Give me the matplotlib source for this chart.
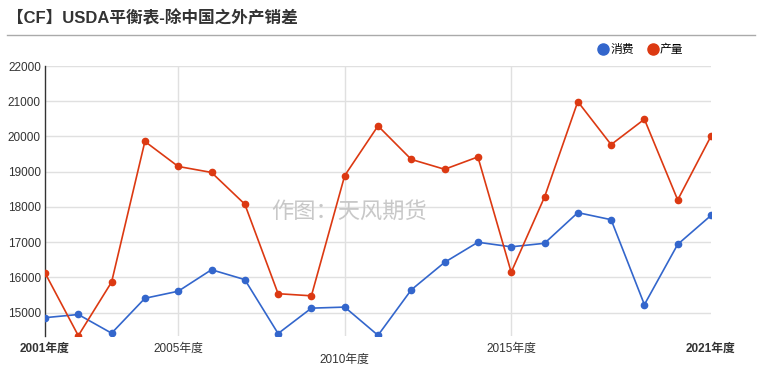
import matplotlib
matplotlib.use('Agg')
import matplotlib.pyplot as plt
from matplotlib.lines import Line2D

plt.rcParams['font.family'] = ['Liberation Sans', 'Noto Sans CJK SC', 'DejaVu Sans']

# data
years = list(range(2001, 2022))
consumption = [14860, 14950, 14420, 15410, 15610, 16220, 15940, 14410, 15130, 15160,
               14360, 15650, 16430, 17000, 16870, 16970, 17840, 17640, 15230, 16940, 17760]
production = [16130, 14350, 15870, 19860, 19150, 18980, 18080, 15540, 15480, 18890,
              20300, 19350, 19070, 19420, 16150, 18280, 20990, 19770, 20490, 18200, 20010]
xtick_years = [2001, 2005, 2010, 2015, 2021]
xtick_labels = [f'{y}年度' for y in xtick_years]
yticks = [15000, 16000, 17000, 18000, 19000, 20000, 21000, 22000]

blue = '#3366cc'
red = '#dc3912'
W, H = 761, 371

fig = plt.figure(figsize=(W / 100, H / 100), dpi=100)
ax = fig.add_axes([45 / W, 1 - 336 / H, (711 - 45) / W, (336 - 66) / H])

ax.plot(years, consumption, color=blue, lw=1.2, marker='o', ms=4.5, zorder=3)
ax.plot(years, production, color=red, lw=1.2, marker='o', ms=4.5, zorder=3)

ax.set_xlim(2001, 2021)
ax.set_ylim(14340, 22000)
ax.set_yticks(yticks)
ax.set_yticklabels([str(v) for v in yticks])
ax.set_xticks(xtick_years)
ax.set_xticklabels(xtick_labels)

# grid
for v in yticks:
    ax.axhline(v, color='#e0e0e0', lw=1, zorder=1)
for y in xtick_years[1:-1]:
    ax.axvline(y, color='#e0e0e0', lw=1, zorder=1)

for s in ['top', 'right', 'bottom']:
    ax.spines[s].set_visible(False)
ax.spines['left'].set_color('#333333')
ax.spines['left'].set_linewidth(1)
ax.tick_params(axis='both', length=0, labelsize=8.5, colors='#333333')
ax.tick_params(axis='y', pad=3)
ax.tick_params(axis='x', pad=5)

labels = ax.get_xticklabels()
labels[0].set_fontweight('bold')
labels[-1].set_fontweight('bold')
labels[2].set_y(-0.04)

# watermark
ax.text(0.457, 0.455, '作图：天风期货', transform=ax.transAxes, ha='center', va='center',
        fontsize=16, color='#c8c8c8', zorder=2)

# title and separator
fig.text(7 / W, 1 - 18 / H, '【CF】USDA平衡表-除中国之外产销差', fontsize=12,
         fontweight='bold', color='#333333', ha='left', va='center')
fig.add_artist(Line2D([7 / W, 755 / W], [1 - 35 / H, 1 - 35 / H], color='#aaaaaa', lw=1))

handles = [Line2D([], [], ls='none', marker='o', ms=8, color=blue),
           Line2D([], [], ls='none', marker='o', ms=8, color=red)]
fig.legend(handles, ['消费', '产量'], loc='center', bbox_to_anchor=(641 / W, 1 - 50 / H),
           ncol=2, frameon=False, fontsize=8.5, handlelength=0.8, handletextpad=0.2,
           columnspacing=1.2)

fig.savefig('out.png', dpi=100)
